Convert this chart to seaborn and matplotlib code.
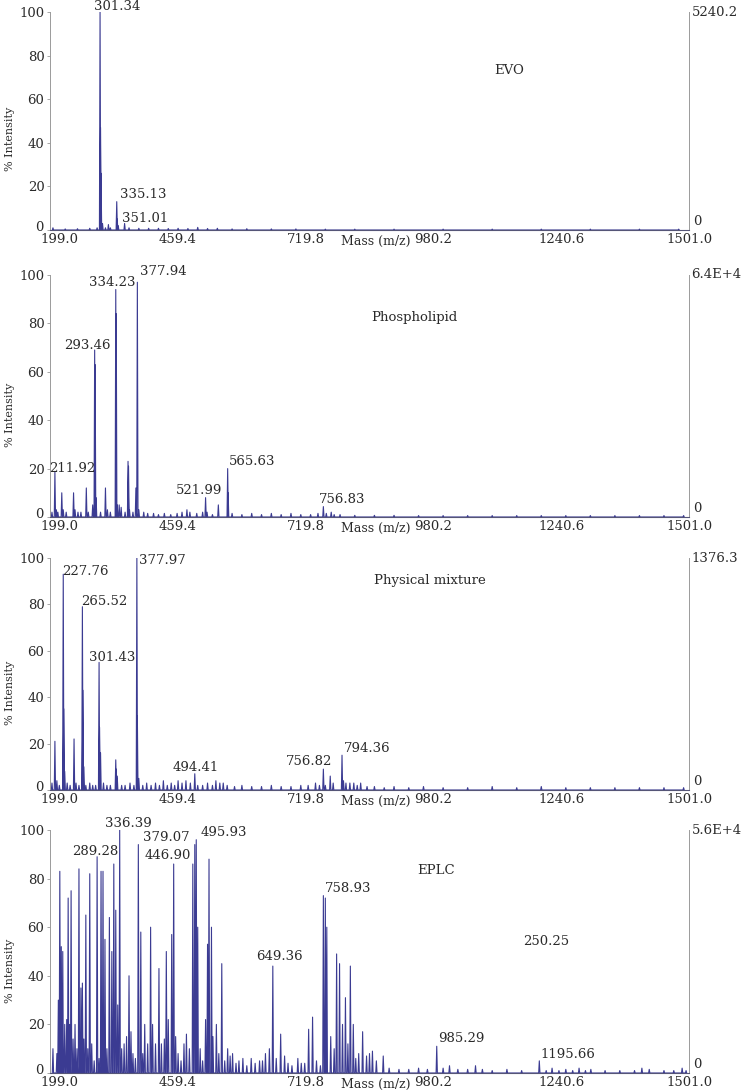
import numpy as np
import pandas as pd
import matplotlib
matplotlib.use("Agg")
import matplotlib.pyplot as plt
import seaborn as sns
from matplotlib.transforms import blended_transform_factory, ScaledTranslation

sns.set_theme(style="white")
plt.rcParams["font.family"] = ["DejaVu Serif"]

# ---------------- data ----------------
x_ticks = [199.0, 459.4, 719.8, 980.2, 1240.6, 1501.0]
y_ticks = [0, 20, 40, 60, 80, 100]
panel_titles = ["EVO", "Phospholipid", "Physical mixture", "EPLC"]
right_max = ["5240.2", "6.4E+4", "1376.3", "5.6E+4"]

evo_mz = [205, 230, 255, 280, 295, 301, 302, 303, 306, 312, 318, 322, 335, 336, 338, 351, 360,
          380, 400, 420, 440, 460, 480, 500, 520, 540, 570, 600, 650, 700, 760, 820, 900, 1000,
          1100, 1200, 1300, 1400, 1480]
evo_int = [1, 0.5, 0.6, 0.8, 1, 100, 47, 26, 3, 1, 2.5, 1, 13, 5, 2, 3, 1,
           0.8, 0.8, 0.8, 0.7, 0.8, 0.7, 1.2, 0.7, 0.8, 0.5, 0.6, 0.5, 0.5, 0.4, 0.4, 0.4, 0.4,
           0.4, 0.4, 0.4, 0.4, 0.4]
evo_lab = ["301.34", "335.13", "351.01"]
evo_lab_x = [335, 388, 392]
evo_lab_y = [102.5, 16.3, 5.3]

pho_mz = [203, 209, 212, 215, 223, 226, 232, 247, 250, 256, 262, 273, 277, 286, 290, 291, 293,
          302, 312, 316, 322, 333, 334, 336, 340, 344, 352, 358, 359, 361, 368, 374, 377, 380,
          390, 398, 410, 420, 432, 445, 458, 468, 478, 484, 498, 510, 516, 519, 530, 542, 561,
          562, 570, 590, 610, 630, 650, 670, 690, 710, 730, 745, 756, 762, 772, 778, 790, 820,
          860, 900, 950, 1000, 1050, 1100, 1150, 1200, 1250, 1300, 1350, 1400, 1450, 1490]
pho_int = [2, 18.6, 3, 2, 10, 3, 2, 10, 3, 2, 2, 12, 2, 5, 69, 63, 8,
           2, 12, 3, 2, 94, 84, 5, 5, 4, 2, 23, 21, 3, 2, 12, 97, 3,
           2, 1.5, 1.5, 1, 1.5, 1, 1.5, 2, 3, 2, 1.5, 2, 8, 2, 1, 5, 20,
           10, 1.5, 1, 1.5, 1, 1.5, 1, 1.5, 1, 1, 1.5, 4.3, 1.5, 2, 1, 1, 0.7,
           0.7, 0.7, 0.6, 0.6, 0.6, 0.6, 0.6, 0.6, 0.6, 0.6, 0.6, 0.6, 0.6, 0.6]
pho_lab = ["211.92", "293.46", "334.23", "377.94", "521.99", "565.63", "756.83"]
pho_lab_x = [244, 276, 325, 429, 502, 610, 795]
pho_lab_y = [20, 70.8, 96.7, 101.4, 10.9, 22.9, 7.4]

mix_mz = [203, 209, 213, 218, 226, 227, 229, 234, 240, 248, 252, 258, 265, 266, 268, 272, 280,
          286, 292, 299, 300, 302, 308, 315, 322, 333, 334, 336, 345, 352, 362, 370, 376, 377,
          380, 388, 396, 405, 414, 422, 430, 438, 446, 453, 460, 468, 476, 485, 494, 500, 510,
          520, 530, 537, 545, 552, 560, 575, 590, 610, 630, 650, 670, 690, 710, 725, 740, 748,
          756, 760, 770, 776, 794, 797, 802, 810, 818, 825, 832, 845, 860, 880, 900, 930, 960,
          1000, 1050, 1100, 1150, 1200, 1250, 1300, 1350, 1400, 1450, 1490]
mix_int = [3, 21, 4, 2, 93, 35, 8, 3, 2, 22, 3, 2, 79, 43, 10, 2, 3,
           2, 2, 55, 27, 16, 3, 2, 2, 13, 9, 6, 2, 2, 3, 2, 100, 32,
           5, 2, 3, 2, 3, 2, 4, 2, 3, 2, 4, 3, 4, 3, 7, 2, 2,
           3, 2, 4, 3, 3, 2, 1.5, 2, 1.5, 1.5, 2, 1.5, 1.5, 2, 2, 3, 2,
           9, 2, 6, 3, 15, 4, 3, 3, 3, 2, 3, 1.5, 1.5, 1, 1.5, 1, 1.5,
           1, 1, 1.5, 1, 1.5, 1, 1, 1, 1, 1, 1]
mix_lab = ["227.76", "265.52", "301.43", "377.97", "494.41", "756.82", "794.36"]
mix_lab_x = [272, 309, 325, 427, 496, 726, 846]
mix_lab_y = [94.1, 81.2, 56.9, 99, 9.5, 12.2, 18.1]

eplc_mz = [205, 213, 216, 219, 222, 225, 229, 233, 236, 239, 242, 246, 250, 254, 258, 262, 265,
           268, 272, 276, 280, 284, 289, 295, 299, 303, 307, 311, 315, 320, 325, 329, 333, 337,
           341, 345, 350, 355, 360, 364, 368, 373, 379, 384, 388, 392, 398, 404, 408, 414, 421,
           426, 432, 436, 440, 447, 451, 455, 460, 466, 472, 477, 483, 490, 494, 497, 500, 505,
           510, 516, 520, 523, 528, 531, 538, 543, 549, 555, 561, 566, 571, 578, 584, 592, 600,
           609, 617, 626, 632, 638, 646, 653, 660, 669, 677, 684, 692, 704, 711, 718, 726, 734,
           742, 750, 756, 760, 763, 771, 778, 783, 789, 795, 801, 806, 811, 817, 822, 828, 836,
           844, 850, 856, 864, 878, 890, 910, 930, 950, 968, 987, 1000, 1013, 1030, 1050, 1066,
           1080, 1100, 1130, 1160, 1196, 1210, 1222, 1236, 1250, 1264, 1277, 1290, 1301, 1330,
           1360, 1390, 1405, 1420, 1450, 1470, 1487, 1495]
eplc_int = [10, 8, 30, 83, 52, 50, 20, 22, 72, 20, 75, 14, 20, 10, 84, 35, 37,
            14, 65, 10, 82, 12, 5, 89, 6, 83, 83, 55, 10, 64, 50, 86, 67, 28,
            100, 10, 12, 15, 40, 17, 8, 6, 94, 58, 8, 20, 12, 60, 20, 12, 43,
            12, 14, 50, 22, 57, 86, 15, 8, 5, 12, 16, 10, 86, 94, 96, 60, 10,
            5, 22, 53, 88, 60, 15, 20, 8, 45, 5, 10, 7, 8, 4, 5, 6, 3,
            6, 4, 5, 5, 8, 10, 44, 6, 16, 7, 4, 3, 6, 4, 4, 18, 23,
            5, 3, 73, 72, 60, 15, 10, 49, 45, 20, 31, 12, 44, 20, 6, 8, 17,
            7, 8, 9, 5, 7, 2, 1.5, 1.5, 2, 1.5, 11, 2, 3, 1.5, 1.5, 3,
            1.5, 1, 1.5, 1, 5, 1, 2, 1, 1.5, 1, 2, 1, 1.5, 1,
            1, 1, 2, 1.5, 1, 1, 2, 1]
eplc_lab = ["289.28", "336.39", "379.07", "446.90", "495.93", "649.36", "758.93", "985.29",
            "1195.66", "250.25"]
eplc_lab_x = [290.5, 358, 437, 439, 553, 667, 807, 1037, 1255, 1210]
eplc_lab_y = [91, 102.5, 96.8, 89.4, 98.9, 47.9, 76, 14, 7.8, 54]

title_x = [1135, 941, 972, 986]
title_y = [73, 82.6, 90.5, 83.2]

panels = [
    (evo_mz, evo_int, evo_lab, evo_lab_x, evo_lab_y),
    (pho_mz, pho_int, pho_lab, pho_lab_x, pho_lab_y),
    (mix_mz, mix_int, mix_lab, mix_lab_x, mix_lab_y),
    (eplc_mz, eplc_int, eplc_lab, eplc_lab_x, eplc_lab_y),
]

# ---------------- layout ----------------
W, H = 745, 1092
fig = plt.figure(figsize=(W / 100, H / 100), dpi=100)
left_px, right_px = 50, 689
bands = [(12, 230), (275, 517), (558, 790), (830, 1073)]

line_col = "#3b3b92"
txt_col = "#2a2a2a"
fs = 9.5


def stick_profile(mz, inten, hw=1.3):
    xs, ys = [], []
    for m, h in zip(mz, inten):
        xs += [m - hw, m, m + hw]
        ys += [0, h, 0]
    return pd.DataFrame({"mz": xs, "intensity": ys})


for i, (mz, inten, labs, lx, ly) in enumerate(panels):
    top, bot = bands[i]
    ax = fig.add_axes([left_px / W, 1 - bot / H, (right_px - left_px) / W, (bot - top) / H])
    df = stick_profile(mz, inten)
    sns.lineplot(data=df, x="mz", y="intensity", sort=False, estimator=None,
                 color=line_col, lw=0.8, ax=ax)
    ax.set_xlim(199.0, 1501.0)
    ax.set_ylim(0, 100)
    ax.set_xticks(x_ticks)
    ax.set_xticklabels([f"{t:.1f}" for t in x_ticks])
    ax.set_yticks(y_ticks)
    ax.set_yticklabels([str(t) for t in y_ticks])
    ax.tick_params(axis="x", length=0, pad=2.5, labelsize=fs, colors=txt_col)
    ax.tick_params(axis="y", length=2, width=0.6, pad=2, labelsize=fs, colors=txt_col,
                   direction="out", left=True, color="#999999")
    # nudge the first x label right and the "0" y label up, as in the reference
    xl = ax.get_xticklabels()
    xl[0].set_transform(xl[0].get_transform() + ScaledTranslation(9 / 100, 0, fig.dpi_scale_trans))
    yl = ax.get_yticklabels()
    yl[0].set_transform(yl[0].get_transform() + ScaledTranslation(-1 / 100, 4 / 100, fig.dpi_scale_trans))
    ax.set_xlabel("")
    ax.set_ylabel("% Intensity", fontsize=8, color=txt_col, labelpad=3)
    ax.yaxis.set_label_coords(-0.055, 0.42)
    ax.spines["top"].set_visible(False)
    ax.spines["left"].set_color("#9a9a9a")
    ax.spines["left"].set_linewidth(0.7)
    ax.spines["right"].set_color("#9a9a9a")
    ax.spines["right"].set_linewidth(0.7)
    ax.spines["bottom"].set_color("#555577")
    ax.spines["bottom"].set_linewidth(0.8)

    for t, x, y in zip(labs, lx, ly):
        ax.text(x, y, t, ha="center", va="center", fontsize=fs, color=txt_col, clip_on=False)
    ax.text(title_x[i], title_y[i], panel_titles[i], ha="center", va="center",
            fontsize=fs, color=txt_col)
    ax.text(1.004, 1.0, right_max[i], transform=ax.transAxes, ha="left", va="center",
            fontsize=fs, color=txt_col)
    ax.text(1.006, 0.008, "0", transform=ax.transAxes, ha="left", va="bottom",
            fontsize=fs, color=txt_col)
    tr = blended_transform_factory(ax.transData, ax.transAxes)
    ax.text(862, -0.022, "Mass (m/z)", transform=tr, ha="center", va="top",
            fontsize=9, color=txt_col)

fig.savefig("out.png", dpi=100)
